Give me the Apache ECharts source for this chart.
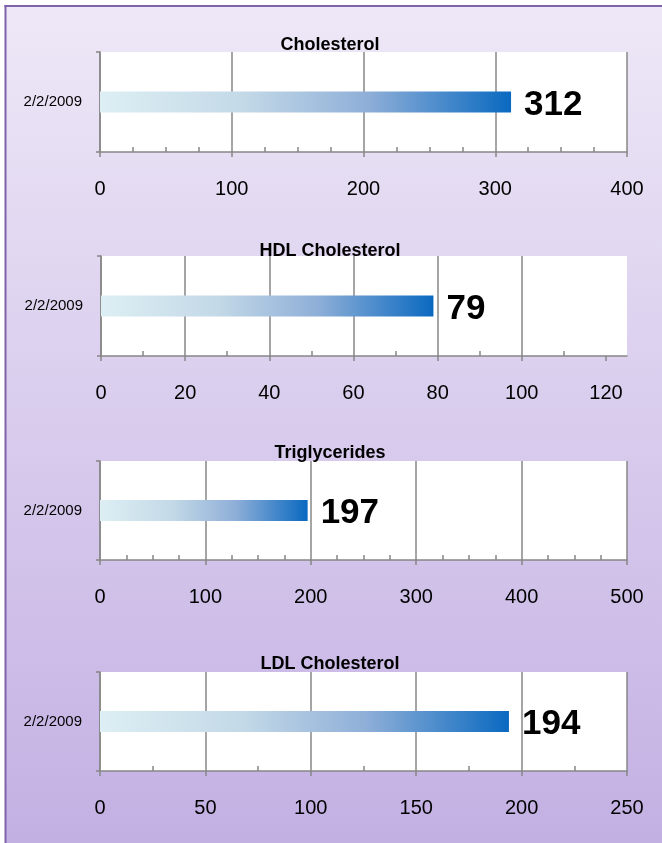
<!DOCTYPE html>
<html>
<head>
<meta charset="utf-8">
<script src="https://cdn.jsdelivr.net/npm/echarts@6/dist/echarts.min.js"></script>
<style>
  html, body { margin: 0; padding: 0; background: #ffffff; overflow: hidden; }
  #chart { width: 662px; height: 843px; }
</style>
</head>
<body>
<div id="chart"></div>
<script>
// ---- data ----
const titles = ['Cholesterol', 'HDL Cholesterol', 'Triglycerides', 'LDL Cholesterol'];
const categories = ['2/2/2009'];
const values = [312, 79, 197, 194];
const axisMax = [400, 125, 500, 250];
const majorStep = [100, 20, 100, 50];
const minorStep = [25, 10, 25, 25];
const tickLabels = [
  [0, 100, 200, 300, 400],
  [0, 20, 40, 60, 80, 100, 120],
  [0, 100, 200, 300, 400, 500],
  [0, 50, 100, 150, 200, 250]
];

// ---- layout ----
const gridTop = [52, 256, 461, 672];
const gridHeight = [100, 100, 99, 99];
const gridLeft = [100, 101, 100, 100];
const titleTop = [36, 242, 444, 655];
const FONT = 'Liberation Sans';
const GRAY = '#878787';

const chart = echarts.init(document.getElementById('chart'), null, { renderer: 'canvas' });

function minorValues(i) {
  const out = [];
  for (let v = minorStep[i]; v < axisMax[i]; v += minorStep[i]) {
    if (v % majorStep[i] !== 0) out.push(v);
  }
  return out;
}

const grid = [], xAxis = [], yAxis = [], series = [], title = [];
titles.forEach((t, i) => {
  grid.push({
    left: gridLeft[i], right: 35, top: gridTop[i], height: gridHeight[i],
    show: true, backgroundColor: '#ffffff', borderWidth: 0,
    outerBoundsMode: 'none', containLabel: false
  });
  title.push({
    text: t, left: 330, top: titleTop[i], textAlign: 'center', padding: 0,
    textStyle: { fontFamily: FONT, fontSize: 18, fontWeight: 'bold', color: '#000' }
  });
  // main axis: labels, outside major ticks, split lines
  xAxis.push({
    type: 'value', gridIndex: i, position: 'bottom', min: 0, max: axisMax[i], interval: majorStep[i],
    axisLine: { show: true, lineStyle: { color: GRAY, width: 1.5 } },
    axisTick: { show: true, inside: false, length: 5, lineStyle: { color: GRAY, width: 1.5 }, customValues: tickLabels[i] },
    axisLabel: { show: true, customValues: tickLabels[i], fontFamily: FONT, fontSize: 20, color: '#000', margin: 27 },
    splitLine: { show: true, showMaxLine: axisMax[i] === tickLabels[i][tickLabels[i].length - 1], lineStyle: { color: GRAY, width: 1.5 } },
    minorTick: { show: false }
  });
  // helper axis: inside minor ticks
  xAxis.push({
    type: 'value', gridIndex: i, position: 'bottom', min: 0, max: axisMax[i],
    axisLine: { show: false },
    axisTick: { show: true, inside: true, length: 5, lineStyle: { color: GRAY, width: 1.5 }, customValues: minorValues(i) },
    axisLabel: { show: false },
    splitLine: { show: false }
  });
  yAxis.push({
    type: 'category', gridIndex: i, data: categories,
    axisLine: { show: true, lineStyle: { color: GRAY, width: 1.5 } },
    axisTick: { show: true, inside: false, length: 4, lineStyle: { color: GRAY, width: 1.5 } },
    axisLabel: { fontFamily: FONT, fontSize: 15, color: '#000', margin: 18, padding: [4, 0, 0, 0] },
    splitLine: { show: false }
  });
  series.push({
    type: 'bar', xAxisIndex: 2 * i, yAxisIndex: i, data: [values[i]],
    barWidth: 21,
    itemStyle: {
      color: new echarts.graphic.LinearGradient(0, 0, 1, 0, [
        { offset: 0, color: '#DDEFF4' },
        { offset: 0.35, color: '#C3D9E7' },
        { offset: 0.65, color: '#8FAFD8' },
        { offset: 1, color: '#0A69C0' }
      ])
    },
    label: {
      show: true, position: 'right', distance: 13, offset: [0, 3], formatter: '{c}',
      fontFamily: FONT, fontSize: 35, fontWeight: 'bold', color: '#000'
    }
  });
});

chart.setOption({
  animation: false,
  backgroundColor: '#ffffff',
  graphic: [
    {
      type: 'rect', z: -10, silent: true,
      shape: { x: 5, y: 5, width: 657, height: 838 },
      style: {
        fill: new echarts.graphic.LinearGradient(0, 0, 0, 1, [
          { offset: 0, color: '#EEE8F7' },
          { offset: 1, color: '#C3B0E3' }
        ])
      }
    },
    {
      type: 'line', z: -9, silent: true,
      shape: { x1: 4.5, y1: 6, x2: 662, y2: 6 },
      style: { stroke: '#7F63A8', lineWidth: 2 }
    },
    {
      type: 'line', z: -9, silent: true,
      shape: { x1: 5.5, y1: 5, x2: 5.5, y2: 843 },
      style: { stroke: '#7F63A8', lineWidth: 2 }
    }
  ],
  title, grid, xAxis, yAxis, series
});
</script>
</body>
</html>
